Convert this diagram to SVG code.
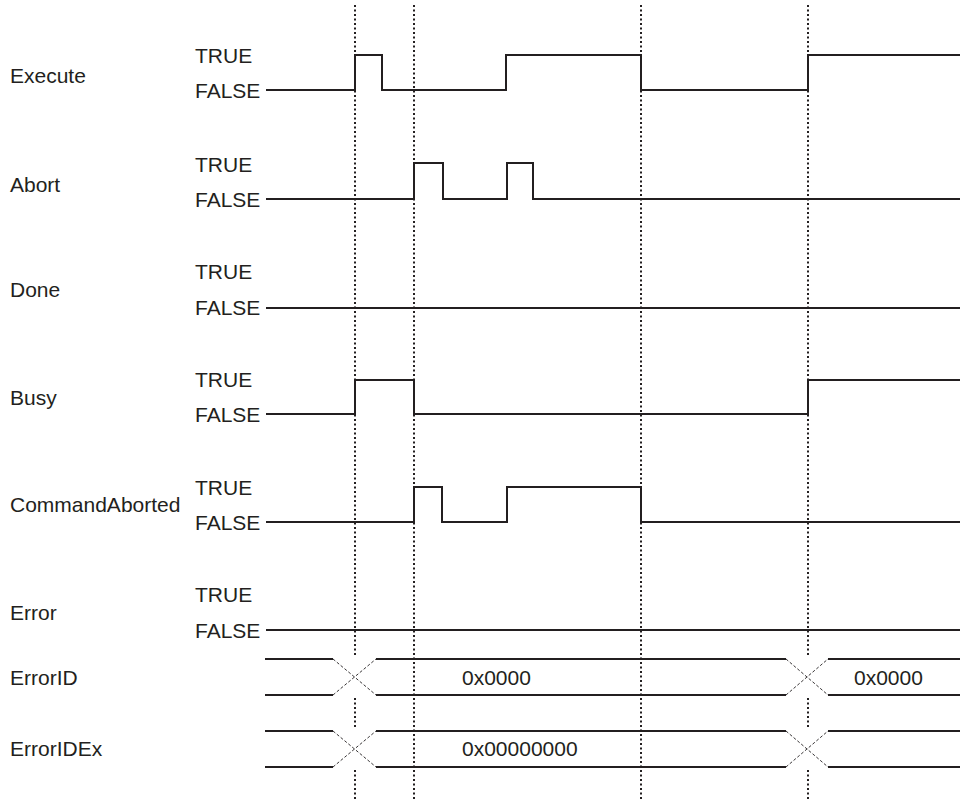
<svg xmlns="http://www.w3.org/2000/svg" width="960" height="802" viewBox="0 0 960 802">
<style>
text{font-family:"Liberation Sans",Arial,sans-serif;font-size:21px;fill:#231f20}
.w{fill:none;stroke:#231f20;stroke-width:2;stroke-linejoin:miter}
.dot{fill:none;stroke:#231f20;stroke-width:2;stroke-dasharray:2 2.5}
.x{fill:none;stroke:#231f20;stroke-width:0.9;stroke-dasharray:3 2}
</style>
<rect width="960" height="802" fill="#fff"/>
<g id="guides">
<line class="dot" x1="355" y1="5" x2="355" y2="656"/>
<line class="dot" x1="355" y1="698" x2="355" y2="728"/>
<line class="dot" x1="355" y1="770" x2="355" y2="800"/>
<line class="dot" x1="414" y1="5" x2="414" y2="800"/>
<line class="dot" x1="641" y1="5" x2="641" y2="800"/>
<line class="dot" x1="808" y1="5" x2="808" y2="656"/>
<line class="dot" x1="808" y1="698" x2="808" y2="728"/>
<line class="dot" x1="808" y1="770" x2="808" y2="800"/>
</g>
<g id="execute">
<text x="10" y="83">Execute</text>
<text x="195" y="63">TRUE</text>
<text x="195" y="98">FALSE</text>
<polyline class="w" points="266,90 355,90 355,55 382,55 382,90 506,90 506,55 641,55 641,90 808,90 808,55 960,55"/>
</g>
<g id="abort">
<text x="10" y="192">Abort</text>
<text x="195" y="172">TRUE</text>
<text x="195" y="207">FALSE</text>
<polyline class="w" points="266,199 414,199 414,163 443,163 443,199 507,199 507,163 533,163 533,199 960,199"/>
</g>
<g id="done">
<text x="10" y="297">Done</text>
<text x="195" y="279">TRUE</text>
<text x="195" y="315">FALSE</text>
<polyline class="w" points="266,308 960,308"/>
</g>
<g id="busy">
<text x="10" y="405">Busy</text>
<text x="195" y="387">TRUE</text>
<text x="195" y="422">FALSE</text>
<polyline class="w" points="266,414 355,414 355,380 414,380 414,414 808,414 808,380 960,380"/>
</g>
<g id="commandaborted">
<text x="10" y="512">CommandAborted</text>
<text x="195" y="495">TRUE</text>
<text x="195" y="530">FALSE</text>
<polyline class="w" points="266,522 414,522 414,487 442,487 442,522 507,522 507,487 641,487 641,522 960,522"/>
</g>
<g id="error">
<text x="10" y="620">Error</text>
<text x="195" y="602">TRUE</text>
<text x="195" y="638">FALSE</text>
<polyline class="w" points="266,630 960,630"/>
</g>
<g id="errorid">
<text x="10" y="685">ErrorID</text>
<path class="w" d="M265,659H333M376,659H786M828,659H960M265,695H333M376,695H786M828,695H960"/>
<path class="x" d="M333,659L376,695M333,695L376,659M786,659L828,695M786,695L828,659"/>
<text x="462" y="685">0x0000</text>
<text x="854" y="685">0x0000</text>
</g>
<g id="erroridex">
<text x="10" y="756">ErrorIDEx</text>
<path class="w" d="M265,731H333M376,731H786M828,731H960M265,767H333M376,767H786M828,767H960"/>
<path class="x" d="M333,731L376,767M333,767L376,731M786,731L828,767M786,767L828,731"/>
<text x="462" y="756">0x00000000</text>
</g>
</svg>
